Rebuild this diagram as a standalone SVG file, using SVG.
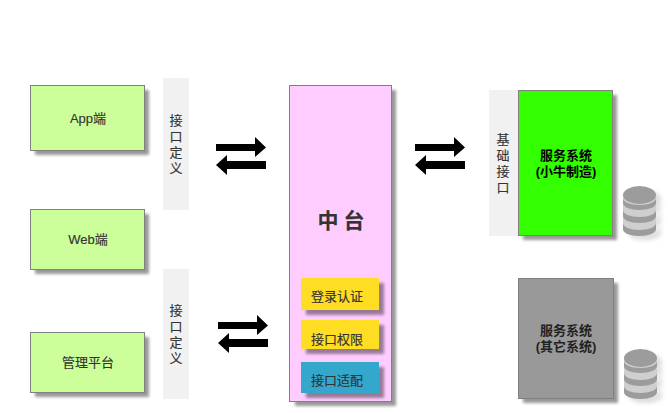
<svg xmlns="http://www.w3.org/2000/svg" width="668" height="413" viewBox="0 0 668 413">
<defs>
<filter id="sh" x="-20%" y="-20%" width="150%" height="150%"><feGaussianBlur stdDeviation="1.5"/></filter>
<filter id="dbsh" x="-30%" y="-30%" width="170%" height="170%"><feGaussianBlur stdDeviation="2"/></filter>
<g id="arrows">
<path d="M0 7H39V0L50 10.500 39 20V14H0Z"/>
<path d="M50 24H11V18L0 28 11 38V32H50Z"/>
</g>
<g id="db">
<path d="M0 9V43C0 47 7 50 16.500 50S33 47 33 43V9Z" fill="#cfcfcf"/>
<path d="M0 37V43C0 47 7 50 16.500 50S33 47 33 43V37C33 41 26 44 16.500 44S0 41 0 37Z" fill="#9c9c9c"/>
<path d="M0 24V30C0 34 7 37 16.500 37S33 34 33 30V24C33 28 26 31 16.500 31S0 28 0 24Z" fill="#9c9c9c"/>
<path d="M0 12V17C0 21 7 24 16.500 24S33 21 33 17V12C33 16 26 19 16.500 19S0 16 0 12Z" fill="#9c9c9c"/>
<ellipse cx="16.500" cy="9" rx="16.500" ry="9" fill="#9c9c9c"/>
</g>
</defs>
<style>
text{font-family:"Liberation Sans","Noto Sans CJK SC",sans-serif;font-size:13px;fill:#333;text-anchor:middle;stroke:#333;stroke-width:.15}
.b{font-weight:bold;fill:#000;stroke:none}
.box{stroke:#808080;stroke-width:1}
.s{fill:#000;opacity:.4;filter:url(#sh)}
.band{fill:#f1f1f1}
</style>
<rect width="668" height="413" fill="#fff"/>
<g id="connectors">
<use href="#arrows" x="216" y="137"/>
<use href="#arrows" x="415" y="137"/>
<use href="#arrows" x="218" y="315"/>
</g>
<g id="node-app"><rect class="s" x="35" y="90" width="114" height="65"/><rect class="box" x="30.500" y="85.500" width="114" height="65" fill="#ccff99"/><text x="88" y="123">App端</text></g>
<g id="node-web"><rect class="s" x="35" y="214" width="114" height="60"/><rect class="box" x="30.500" y="209.500" width="114" height="60" fill="#ccff99"/><text x="88" y="244">Web端</text></g>
<g id="node-admin"><rect class="s" x="35" y="337" width="114" height="60"/><rect class="box" x="30.500" y="332.500" width="114" height="60" fill="#ccff99"/><text x="88" y="367">管理平台</text></g>
<g id="node-def1"><rect class="band" x="163" y="78" width="26" height="132"/><text x="176" y="125">接</text><text x="176" y="141">口</text><text x="176" y="157">定</text><text x="176" y="173">义</text></g>
<g id="node-def2"><rect class="band" x="163" y="269" width="26" height="130"/><text x="176" y="315">接</text><text x="176" y="331">口</text><text x="176" y="347">定</text><text x="176" y="363">义</text></g>
<g id="node-middle"><rect class="s" x="295" y="90" width="101" height="316"/><rect class="box" x="289.500" y="85.500" width="102" height="316" fill="#ffccff"/><text x="343.500" y="228" style="font-size:21px;font-weight:bold;letter-spacing:5px">中台</text></g>
<g id="node-login"><rect class="s" x="306" y="283" width="78" height="32"/><rect x="301" y="278" width="78" height="32" fill="#ffdd22"/><text x="337" y="301">登录认证</text></g>
<g id="node-perm"><rect class="s" x="306" y="325" width="78" height="29"/><rect x="301" y="320" width="78" height="29" fill="#ffdd22"/><text x="337" y="344">接口权限</text></g>
<g id="node-adapt"><rect class="s" x="306" y="367" width="78" height="31"/><rect x="301" y="362" width="78" height="31" fill="#33a8cc"/><text x="337" y="385">接口适配</text></g>
<g id="node-base"><rect class="band" x="489" y="90" width="30" height="146"/><text x="503" y="144">基</text><text x="503" y="160">础</text><text x="503" y="176">接</text><text x="503" y="192">口</text></g>
<g id="node-svc1"><rect class="s" x="523" y="95" width="94" height="145"/><rect class="box" x="518.500" y="90.500" width="94" height="145" fill="#33ff00"/><text class="b" x="566" y="160">服务系统</text><text class="b" x="566" y="176">(小牛制造)</text></g>
<g id="node-svc2"><rect class="s" x="523" y="283" width="95" height="120"/><rect class="box" x="518.500" y="278.500" width="95" height="120" fill="#999999"/><text class="b" x="566" y="335" style="fill:#222">服务系统</text><text class="b" x="566" y="351" style="fill:#222">(其它系统)</text></g>
<g id="node-db1"><use href="#db" x="628" y="190" opacity=".35" filter="url(#dbsh)"/><use href="#db" x="623" y="186"/></g>
<g id="node-db2"><use href="#db" x="629" y="353" opacity=".35" filter="url(#dbsh)"/><use href="#db" x="624" y="349"/></g>
</svg>
